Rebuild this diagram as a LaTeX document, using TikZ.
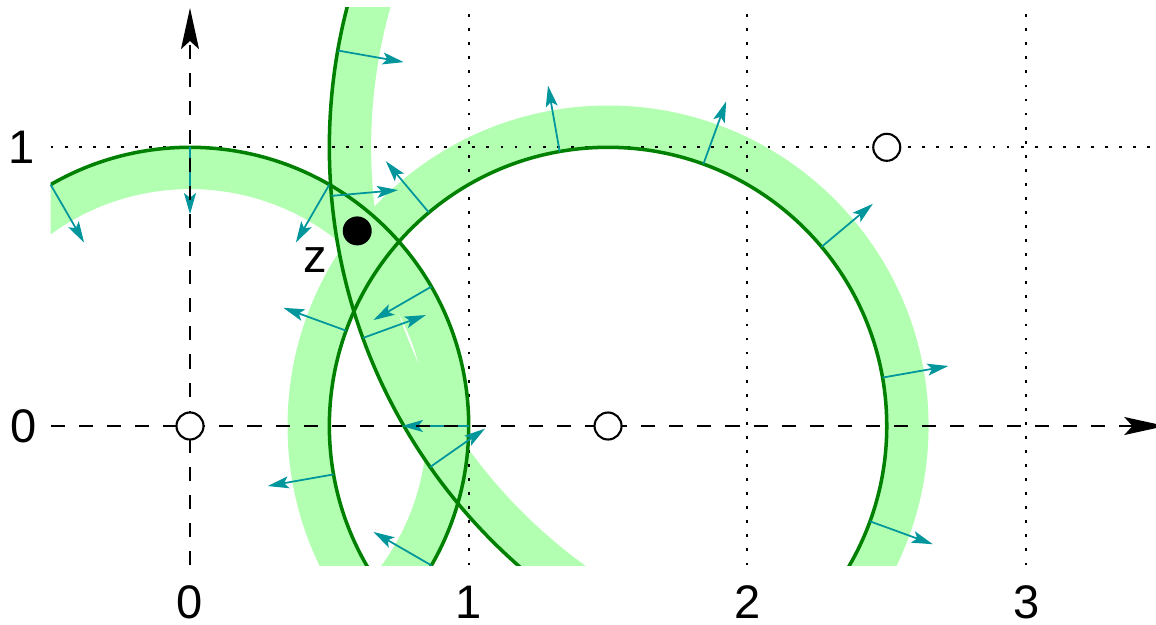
\documentclass[tikz,border=0pt]{standalone}
\usepackage{fontspec}
\setmainfont{Liberation Sans}
\usetikzlibrary{arrows.meta,calc}
\definecolor{bandgreen}{RGB}{178,255,178}
\definecolor{circgreen}{RGB}{0,128,0}
\definecolor{nrmteal}{RGB}{0,150,155}
\begin{document}
\begin{tikzpicture}[x=2.787cm,y=2.787cm,
  band/.style={fill=bandgreen, even odd rule},
  circ/.style={draw=circgreen, line width=1pt},
  nrm/.style={draw=nrmteal, line width=0.5pt, -{Stealth[length=6pt,width=3.4pt,inset=1.3pt]}},
  axisline/.style={draw=black, line width=0.6pt, dash pattern=on 4pt off 4pt, -{Stealth[length=11.7pt,width=5.1pt,inset=2.3pt]}},
  gridline/.style={draw=black, line width=0.55pt, dash pattern=on 0.8pt off 3.2pt},
  lbl/.style={font=\fontsize{13.4}{16}\selectfont, inner sep=0pt},
  ctr/.style={circle, draw=black, fill=white, line width=0.6pt, minimum size=0.27cm, inner sep=0pt},
  pt/.style={circle, fill=black, minimum size=0.29cm, inner sep=0pt}]
\useasboundingbox (-0.6817,-0.7104) rectangle (3.4661,1.5285);
\coordinate (c1) at (0,0);
\coordinate (c2) at (1.5,0);
\coordinate (c3) at (2.5,1);
% bands
\begin{scope}
\clip (-0.5,-0.5) rectangle (3.5,1.5);
\fill[band] (c1) circle[radius=1] (c1) circle[radius=0.85];
\fill[band] (c2) circle[radius=1.15] (c2) circle[radius=1];
\fill[band] (c3) circle[radius=2] (c3) circle[radius=1.85];
\end{scope}
% grid
\draw[gridline] (-0.5,1) -- (3.5,1);
\foreach \x in {1,2,3} \draw[gridline] (\x,-0.5) -- (\x,1.5);
% circles
\begin{scope}
\clip (-0.5,-0.5) rectangle (3.5,1.5);
\draw[circ] (c1) circle[radius=1];
\draw[circ] (c2) circle[radius=1];
\draw[circ] (c3) circle[radius=2];
\end{scope}
% normals
\foreach \a in {120,90,60,30,0,-30}
  \draw[nrm] ($(c1)+(\a:1)$) -- ($(c1)+(\a:0.76)$);
\foreach \a in {-20,10,40,70,100,130,160,190}
  \draw[nrm] ($(c2)+(\a:1)$) -- ($(c2)+(\a:1.24)$);
\foreach \a in {170,185,200,215}
  \draw[nrm] ($(c3)+(\a:2)$) -- ($(c3)+(\a:1.76)$);
% axes
\draw[axisline] (-0.5,0) -- (3.5,0);
\draw[axisline] (0,-0.5) -- (0,1.5);
% markers
\node[ctr] (m1) at (c1) {};
\node[ctr] (m2) at (c2) {};
\node[ctr] (m3) at (c3) {};
\node[pt] (z) at (0.6,0.7) {};
\node[lbl] (zl) at (0.4485,0.595) {z};
% labels
\node[lbl] (y1) at (-0.603,1) {1};
\node[lbl] (y0) at (-0.597,0) {0};
\foreach \x in {0,1,2,3} \node[lbl] (x\x) at (\x,-0.632) {\x};
\end{tikzpicture}
\end{document}
